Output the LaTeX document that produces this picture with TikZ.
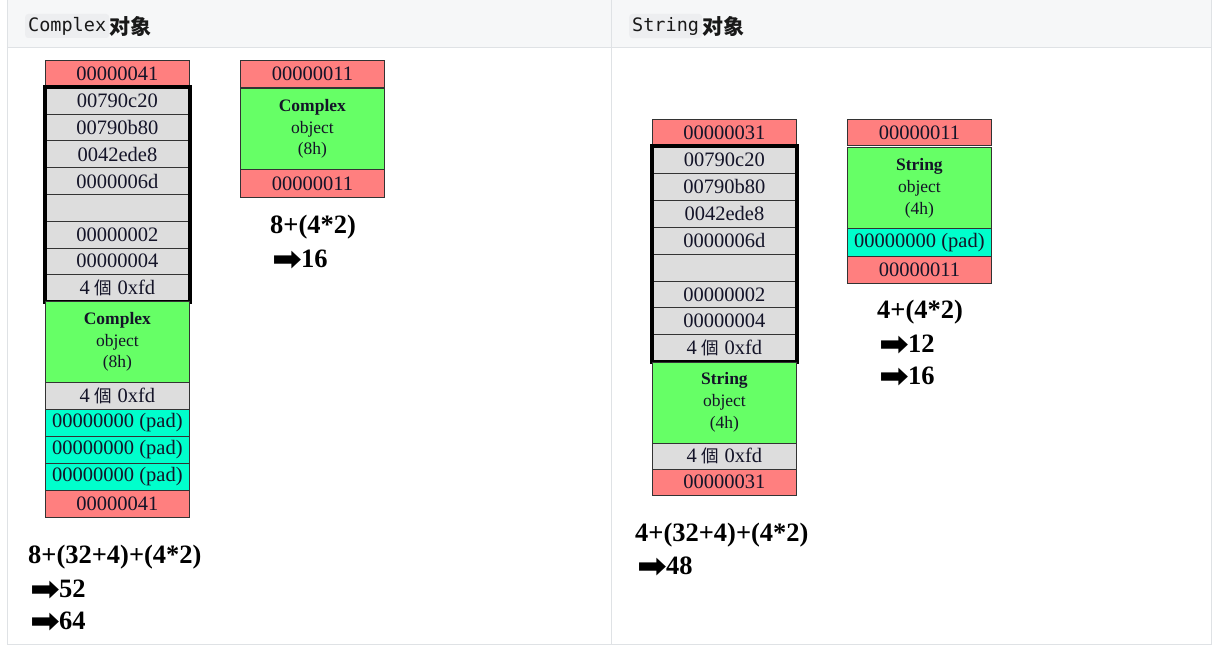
\documentclass[tikz,border=0pt]{standalone}
\usepackage{fontspec}
\setmainfont{Liberation Serif}
\newfontfamily\cjktc{Noto Sans CJK TC}
\newfontfamily\cjksc{Noto Sans CJK SC}
\newfontfamily\symf{DejaVu Sans}
\newfontfamily\monof{DejaVu Sans Mono}
\definecolor{cred}{HTML}{FF7F7F}
\definecolor{cgreen}{HTML}{66FF66}
\definecolor{ccyan}{HTML}{00FFCC}
\definecolor{cgrey}{HTML}{DDDDDD}
\definecolor{cellline}{HTML}{333333}
\definecolor{celltext}{HTML}{141428}
\definecolor{frame}{HTML}{DFE2E5}
\definecolor{headbg}{HTML}{F6F7F8}
\definecolor{codebg}{HTML}{EDEEF0}
\newcommand{\gechar}{{\cjktc\fontsize{17.5}{17.5}\selectfont 個}}
\newcommand{\arr}{\smash{\raisebox{-2.5pt}{\scalebox{1.55}[1.45]{\symf\fontsize{23}{23}\selectfont ➡}}}\kern-1pt}
\begin{document}
\begin{tikzpicture}[x=1pt,y=-1pt,
  cell/.style={draw=cellline, line width=0.8pt, minimum width=144pt, inner sep=0pt,
    anchor=north west, text=celltext, font=\fontsize{20.5}{20.5}\selectfont, align=center},
  objcell/.style={cell, fill=cgreen, font=\fontsize{17.5}{21.7}\selectfont},
  thickbox/.style={draw=black, line width=3.5pt},
  formula/.style={anchor=west, inner sep=0pt, font=\bfseries\fontsize{26.5}{26.5}\selectfont, text=black},
  hdr/.style={anchor=west, inner sep=0pt, text=black!90}]
\useasboundingbox (0,0) rectangle (1216,650);
% table frame
\fill[white] (7,0) rectangle (1211,644);
\fill[headbg] (7,0) rectangle (1211,48);
\draw[frame, line width=1pt] (7,0) rectangle (1211,644);
\draw[frame, line width=1pt] (7,48) -- (1211,48);
\draw[frame, line width=1pt] (611,0) -- (611,644);
% headers
\node[hdr, fill=codebg, rounded corners=3pt, inner xsep=3pt, inner ysep=3pt, font=\monof\fontsize{18.5}{18.5}\selectfont] (h1code) at (25,26) {Complex};
\node[hdr, font=\cjksc\bfseries\fontsize{21}{21}\selectfont] (h1cjk) at (h1code.east) {对象};
\node[hdr, fill=codebg, rounded corners=3pt, inner xsep=3pt, inner ysep=3pt, font=\monof\fontsize{18.5}{18.5}\selectfont] (h2code) at (629,26) {String};
\node[hdr, font=\cjksc\bfseries\fontsize{21}{21}\selectfont] (h2cjk) at (h2code.east) {对象};

% ---- Column A ----
\node[cell, fill=cred, minimum height=26pt] (a0) at (45,60) {00000041};
\node[cell, fill=cgrey, minimum height=26.75pt] (a1) at (45,87) {00790c20};
\node[cell, fill=cgrey, minimum height=26.75pt] (a2) at (45,113.75) {00790b80};
\node[cell, fill=cgrey, minimum height=26.75pt] (a3) at (45,140.5) {0042ede8};
\node[cell, fill=cgrey, minimum height=26.75pt] (a4) at (45,167.25) {0000006d};
\node[cell, fill=cgrey, minimum height=26.75pt] (a5) at (45,194) {};
\node[cell, fill=cgrey, minimum height=26.75pt] (a6) at (45,220.75) {00000002};
\node[cell, fill=cgrey, minimum height=26.75pt] (a7) at (45,247.5) {00000004};
\node[cell, fill=cgrey, minimum height=26.75pt] (a8) at (45,274.25) {4 \gechar{} 0xfd};
\draw[thickbox] (a1.north west) rectangle (a8.south east);
\node[objcell, minimum height=81pt] (a9) at (45,301) {\textbf{Complex}\\object\\(8h)};
\node[cell, fill=cgrey, minimum height=27pt] (a10) at (45,382) {4 \gechar{} 0xfd};
\node[cell, fill=ccyan, minimum height=27pt] (a11) at (45,409) {00000000 (pad)};
\node[cell, fill=ccyan, minimum height=27pt] (a12) at (45,436) {00000000 (pad)};
\node[cell, fill=ccyan, minimum height=27pt] (a13) at (45,463) {00000000 (pad)};
\node[cell, fill=cred, minimum height=27pt] (a14) at (45,490) {00000041};
\node[formula] (fa1) at (28,557) {8+(32+4)+(4*2)};
\node[formula] (fa2) at (30,589) {\arr52};
\node[formula] (fa3) at (30,621) {\arr64};

% ---- Column B ----
\node[cell, fill=cred, minimum height=27pt] (b0) at (240,60) {00000011};
\node[objcell, minimum height=81pt] (b1) at (240,88) {\textbf{Complex}\\object\\(8h)};
\node[cell, fill=cred, minimum height=28pt] (b2) at (240,169) {00000011};
\node[formula] (fb1) at (270,227) {8+(4*2)};
\node[formula] (fb2) at (272,259) {\arr16};

% ---- Column C ----
\node[cell, fill=cred, minimum height=26pt] (c0) at (652,119) {00000031};
\node[cell, fill=cgrey, minimum height=26.9pt] (c1) at (652,146) {00790c20};
\node[cell, fill=cgrey, minimum height=26.9pt] (c2) at (652,172.9) {00790b80};
\node[cell, fill=cgrey, minimum height=26.9pt] (c3) at (652,199.8) {0042ede8};
\node[cell, fill=cgrey, minimum height=26.9pt] (c4) at (652,226.7) {0000006d};
\node[cell, fill=cgrey, minimum height=26.9pt] (c5) at (652,253.6) {};
\node[cell, fill=cgrey, minimum height=26.9pt] (c6) at (652,280.5) {00000002};
\node[cell, fill=cgrey, minimum height=26.9pt] (c7) at (652,307.4) {00000004};
\node[cell, fill=cgrey, minimum height=26.9pt] (c8) at (652,334.3) {4 \gechar{} 0xfd};
\draw[thickbox] (c1.north west) rectangle (c8.south east);
\node[objcell, minimum height=81pt] (c9) at (652,361.5) {\textbf{String}\\object\\(4h)};
\node[cell, fill=cgrey, minimum height=26pt] (c10) at (652,442.5) {4 \gechar{} 0xfd};
\node[cell, fill=cred, minimum height=26pt] (c11) at (652,468.5) {00000031};
\node[formula] (fc1) at (635,535) {4+(32+4)+(4*2)};
\node[formula] (fc2) at (637,566) {\arr48};

% ---- Column D ----
\node[cell, fill=cred, minimum height=26pt] (d0) at (847,119) {00000011};
\node[objcell, minimum height=80.5pt] (d1) at (847,147.5) {\textbf{String}\\object\\(4h)};
\node[cell, fill=ccyan, minimum height=28pt] (d2) at (847,228) {00000000 (pad)};
\node[cell, fill=cred, minimum height=27pt] (d3) at (847,256) {00000011};
\node[formula] (fd1) at (877,312) {4+(4*2)};
\node[formula] (fd2) at (879,344) {\arr12};
\node[formula] (fd3) at (879,376) {\arr16};
\end{tikzpicture}
\end{document}
